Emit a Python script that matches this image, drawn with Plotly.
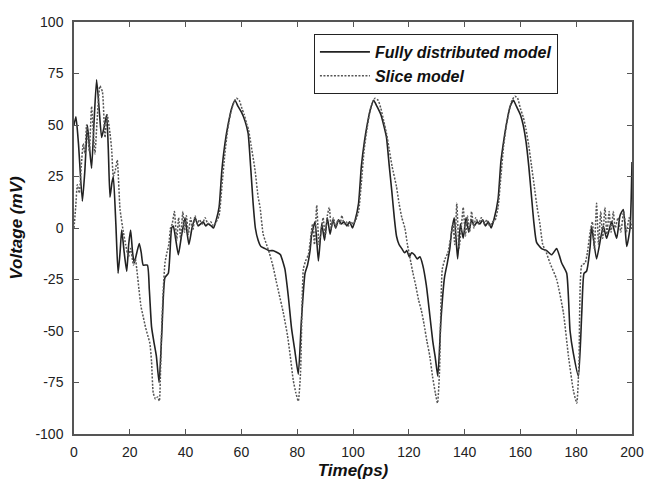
import plotly.graph_objects as go

# ---- data ----
full_t = [0, 0.7, 1.6, 3.0, 3.9, 4.8, 5.5, 6.3, 7.2, 8.1, 9.0, 9.9, 10.8, 11.7, 12.3, 12.9, 13.6, 14.1,
          15.0, 15.8, 16.5, 17.1, 18.0, 18.9, 19.6, 20.3, 21.0, 21.6, 22.5, 23.4, 24.1, 24.8, 26.3, 27.0,
          27.8, 28.6, 29.5, 30.5, 31.5, 32.6, 33.8, 35.0,
          35.6, 36.4, 37.4, 38.5, 39.8, 40.5, 41.2, 42.3, 43.4, 44.5, 45.4, 46.3, 47.2, 48.1, 49.2, 50.0,
          51.0, 52.0, 53.0, 54.1, 55.2, 56.5, 57.7, 58.8, 60.1, 61.3, 62.4, 63.3, 64.2, 65.0, 66.0, 67.0,
          68.5, 70.0, 71.5, 73.0, 74.0, 75.0, 75.6, 76.8, 78.0, 79.2, 80.4, 81.5, 82.8, 83.7, 84.6, 85.2,
          86.4, 87.6, 88.8, 89.8, 90.8, 91.8, 92.8, 93.8, 94.8, 95.8, 96.8, 97.8, 98.8, 99.8, 100.8,
          102.0, 103.0, 104.1, 105.2, 106.3, 107.4, 108.6, 110.0, 111.0, 112.0, 113.0, 113.9, 114.8,
          115.6, 116.5, 117.5, 118.5, 119.3, 120.2, 121.0, 122.0, 123.0, 124.0, 125.0, 126.3, 127.5,
          128.6, 129.5, 130.4, 131.5, 132.8, 133.8, 134.7, 135.4, 136.3, 137.5,
          138.5, 139.5, 140.5, 141.5, 142.5, 143.5, 144.5, 145.5, 146.5, 147.5, 148.5, 149.5, 150.5,
          152.0, 153.0, 154.1, 155.2, 156.3, 157.5, 158.6, 160.0, 161.0, 162.0, 163.0, 164.0, 164.8,
          165.8, 167.6, 169.4, 171.2, 173.0, 174.8, 176.6, 177.8, 179.0, 180.8, 182.0, 182.8, 183.7,
          185.0, 185.5, 187.3, 189.7, 190.9, 192.7, 194.5, 195.7, 196.9, 198.1, 199.3, 200.0]
full_v = [50, 54, 41, 13, 28, 50, 40, 29, 52, 72, 58, 44, 49, 55, 38, 15, 22, 25,
          2, -22, -12, -1, -12, -21, -8, -1, -12, -17, -12, -7.5, -12, -18, -18, -30,
          -48, -55, -62, -75, -50, -24, -22, 0,
          1, -5, -13, -4, 5, -2, -8, 0, 5, 1, 2, 3, 1, 2, 1, 0,
          4, 10, 28, 41, 50, 58, 62, 59, 56, 52, 46, 30, 12, 0, -6, -9,
          -10, -11, -11, -12, -13, -17, -20, -33, -49, -60, -71, -45, -22, -18, -11, -3,
          3, -16, 2, -6, 5, -3, 4, 0, 4, 2, 3, 1, 3, 0, 4,
          12, 30, 42, 51, 58, 62, 59, 55, 50, 44, 30, 18, 5,
          -4, -8, -10, -12, -11, -14, -12, -13, -15, -14, -18, -28, -42,
          -55, -63, -72, -45, -24, -17, -10, -1, 5, -15,
          2, -5, 5, -2, 4, 1, 3, 2, 4, 1, 3, 0, 4,
          14, 32, 43, 52, 59, 62, 59, 55, 50, 42, 30, 15, 3,
          -7, -10, -11, -13, -10, -17, -22, -50, -61, -72, -41, -22, -21,
          -9, 1, -15, 1, -5, 3, -5, 6, 9, -9, 0, 32]

slice_t = [0, 0.6, 1.2, 1.9, 2.6, 3.3, 3.9, 4.5, 5.0, 5.5, 6.3, 7.0, 7.5, 8.4, 9.3, 10.2, 11.1, 11.9,
           12.9, 13.5, 14.1, 14.8, 15.5, 16.5, 17.7, 18.5, 19.5, 20.3, 21.3, 22.0, 22.5, 23.3, 24.0,
           24.8, 25.6, 26.4, 27.2, 27.8, 28.4, 29.2, 30.0, 30.6, 31.0, 31.4, 32.0, 32.6, 33.3, 34.0,
           34.6, 35.2, 36.0, 36.8, 37.5, 38.2, 39.0, 39.6, 40.3, 41.0, 41.8, 42.6, 43.4, 44.2, 45.0,
           46.0, 47.0, 48.0, 49.0, 50.0, 51.0, 52.0, 53.0, 54.0, 55.0, 56.0, 57.0, 58.2, 59.2, 60.2,
           61.0, 62.0, 62.5, 63.5, 64.9, 66.0, 66.7, 67.8, 69.0, 70.0, 71.4, 72.5, 73.5, 75.0, 76.5,
           77.5, 78.6, 79.5, 80.4, 81.2, 82.2, 83.0, 84.0, 84.8, 85.5, 86.2, 87.0, 87.8, 88.5, 89.3,
           90.0, 90.8, 91.5, 92.2, 93.0, 93.8, 94.6, 95.4, 96.0, 96.8, 97.6, 98.4, 99.2, 100.0, 101.0,
           102.0, 103.0, 104.0, 105.0, 106.0, 107.0, 107.9, 109.0, 110.0, 111.0, 112.0, 113.0, 114.0,
           115.6, 116.5, 117.5, 118.6, 119.5, 120.5, 121.5, 122.5, 123.5, 124.5, 125.5, 126.5, 127.5,
           128.5, 129.5, 130.3, 131.0, 132.0, 133.0, 134.0, 135.0, 135.8, 136.5, 137.2, 138.0, 138.8,
           139.5, 140.3, 141.0, 141.8, 142.5, 143.3, 144.0, 145.0, 146.0, 147.0, 148.0, 149.0, 150.0,
           151.0, 152.0, 153.0, 154.0, 155.0, 156.0, 157.0, 158.0, 159.0, 160.0, 161.0, 162.0, 163.0,
           164.0, 165.0, 166.0, 167.0, 168.0, 169.3, 170.6, 173.0, 175.4, 177.2, 179.0, 180.2, 181.0,
           182.0, 183.2, 184.0, 185.0, 185.8, 186.5, 187.3, 188.0, 188.8, 189.5, 190.3, 191.0, 191.8,
           192.5, 193.3, 194.0, 195.0, 196.0, 197.0, 198.0, 199.0, 200.0]
slice_v = [0, 10, 21, 17, 30, 41, 36, 50, 44, 37, 59, 45, 36, 55, 69, 66, 44, 55,
           46, 38, 25, 28, 33, 9, -2, -8, -14, -10, -18, -15, -20, -30, -38,
           -43, -48, -52, -56, -65, -80, -83, -82, -84, -70, -50, -30, -17, -12, -8,
           0, 2, 8, -6, 5, -5, 8, -2, 6, -3, 5, -1, 6, 2, 4,
           2, 5, 2, 3, 1, 3, 6, 20, 35, 47, 55, 60, 63, 62, 58,
           55, 50, 48, 40, 28, 15, 10, -3, -8, -12, -19, -26, -32, -41, -52,
           -62, -74, -80, -84, -70, -20, -16, -13, -5, 2, -8, 11, -8, -2, 5,
           -4, 6, 10, 0, 5, 0, 4, 2, 6, 2, 3, 1, 3, 2, 4,
           8, 22, 38, 48, 56, 61, 63, 62, 58, 52, 46, 38, 30,
           20, 12, 5, 0, -8, -15, -22, -28, -35, -40, -47, -55, -62,
           -72, -80, -85, -70, -20, -15, -12, -5, 2, -8, 12, -10, 0,
           10, -4, 6, -2, 8, 0, 5, 2, 5, 2, 4, 1, 3,
           4, 10, 25, 40, 50, 57, 62, 64, 63, 58, 54, 48, 40,
           30, 20, 10, 2, -8, -12, -17, -25, -41, -62, -79, -85, -65,
           -18, -17, -12, -2, 3, -10, 12, -8, 8, -5, 10, -3, 8,
           -2, 8, 0, 5, -2, 8, -2, 5, 0]

x_ticks = [0, 20, 40, 60, 80, 100, 120, 140, 160, 180, 200]
y_ticks = [100, 75, 50, 25, 0, -25, -50, -75, -100]
y_tick_labels = ["100", "75", "50", "25", "0", "-25", "-50", "-75", "-100"]

FONT = "Liberation Sans, Arial, sans-serif"

fig = go.Figure()
fig.add_trace(go.Scatter(x=full_t, y=full_v, mode="lines", name="Fully distributed model",
                         line=dict(color="#222222", width=1.6, shape="spline", smoothing=0.5)))
fig.add_trace(go.Scatter(x=slice_t, y=slice_v, mode="lines", name="Slice model",
                         line=dict(color="#555555", width=1.5, dash="2px,1.5px",
                                   shape="spline", smoothing=0.5)))

axis_common = dict(showline=True, linecolor="#555555", linewidth=1.5, mirror="ticks",
                   ticks="inside", ticklen=5, tickcolor="#555555", tickwidth=1,
                   showgrid=False, zeroline=False, automargin=False,
                   tickfont=dict(family=FONT, size=14, color="#222222"))

fig.update_layout(
    width=648, height=480,
    margin=dict(l=74, r=16, t=22, b=46),
    paper_bgcolor="white", plot_bgcolor="white",
    xaxis=dict(range=[0, 200], tickvals=x_ticks, **axis_common,
               ticklabelstandoff=4,
               title=dict(text="<b><i>Time(ps)</i></b>", standoff=6,
                          font=dict(family=FONT, size=17, color="#111111"))),
    yaxis=dict(range=[-100, 100], tickvals=y_ticks, ticktext=y_tick_labels, **axis_common,
               ticklabelstandoff=6,
               title=dict(text="<b><i>Voltage (mV)</i></b>", standoff=8,
                          font=dict(family=FONT, size=17, color="#111111"))),
    showlegend=True,
    legend=dict(x=0.43, y=0.971, xanchor="left", yanchor="top",
                bgcolor="white", bordercolor="#222222", borderwidth=1,
                font=dict(family=FONT, size=16, color="#111111", weight="bold", style="italic"),
                itemwidth=50),
)

fig.write_html("out.html")
